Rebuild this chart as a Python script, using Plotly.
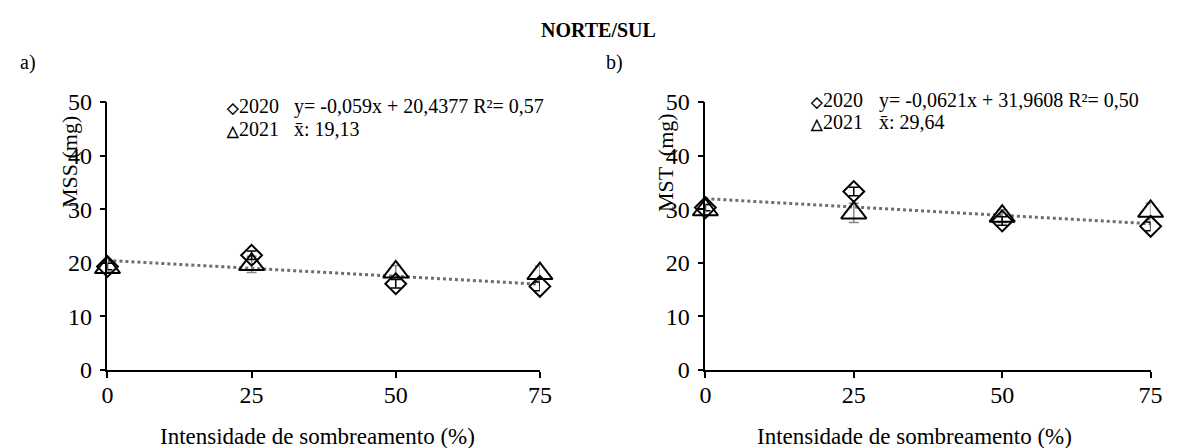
import plotly.graph_objects as go

# ---- data ----
shade = [0, 25, 50, 75]
tick_y = [0, 10, 20, 30, 40, 50]

mss_2020 = [19.3, 21.4, 16.1, 15.6]
mss_2020_err = [0.6, 0.8, 0.8, 0.8]
mss_2021 = [19.1, 19.7, 18.3, 18.0]
mss_2021_err = [0.8, 1.5, 1.2, 1.4]
mss_trend_x = [0, 75]
mss_trend_y = [20.44, 16.01]

mst_2020 = [30.3, 33.3, 27.8, 26.8]
mst_2020_err = [0.6, 0.8, 0.8, 0.8]
mst_2021 = [29.9, 29.3, 28.7, 29.6]
mst_2021_err = [1.0, 1.8, 1.2, 1.5]
mst_trend_x = [0, 75]
mst_trend_y = [31.96, 27.30]

W, H = 1203, 448
FONT = "Liberation Serif"

fig = go.Figure()


def add_panel(xa, ya, y20, e20, y21, e21, tx, ty):
    fig.add_trace(go.Scatter(
        x=tx, y=ty, mode="lines", xaxis=xa, yaxis=ya, showlegend=False,
        line=dict(color="#6e6e6e", width=3, dash="dot"), hoverinfo="skip"))
    fig.add_trace(go.Scatter(
        x=shade, y=y21, mode="markers", xaxis=xa, yaxis=ya, showlegend=False,
        cliponaxis=False,
        marker=dict(symbol="triangle-up-open", size=22,
                    line=dict(color="black", width=2), color="black"),
        error_y=dict(type="data", array=e21, color="#888888", thickness=1.5, width=5)))
    fig.add_trace(go.Scatter(
        x=shade, y=y20, mode="markers", xaxis=xa, yaxis=ya, showlegend=False,
        cliponaxis=False,
        marker=dict(symbol="diamond-open", size=16,
                    line=dict(color="black", width=2), color="black"),
        error_y=dict(type="data", array=e20, color="black", thickness=1.5, width=5)))


add_panel("x", "y", mss_2020, mss_2020_err, mss_2021, mss_2021_err, mss_trend_x, mss_trend_y)
add_panel("x2", "y2", mst_2020, mst_2020_err, mst_2021, mst_2021_err, mst_trend_x, mst_trend_y)

TICKFONT = dict(family=FONT, size=24, color="black")
axis_common = dict(showline=True, linecolor="black", linewidth=1.5, ticks="outside",
                   ticklen=6, tickcolor="black", tickwidth=1.5, showgrid=False,
                   zeroline=False, tickfont=TICKFONT)
xcommon = dict(range=[0, 75], tickvals=shade, ticklabelstandoff=-4, **axis_common)
ycommon = dict(domain=[0, 1], range=[0, 50], tickvals=tick_y, ticklabelstandoff=3, **axis_common)

fig.update_layout(
    width=W, height=H,
    margin=dict(l=0, r=0, t=102, b=78),
    paper_bgcolor="white", plot_bgcolor="white",
    font=dict(family=FONT, color="black", size=20),
    xaxis=dict(domain=[103 / W, 542 / W], anchor="y", **xcommon),
    yaxis=dict(anchor="x", **ycommon),
    xaxis2=dict(domain=[710 / W, 1162 / W], anchor="y2", **xcommon),
    yaxis2=dict(anchor="x2", **ycommon),
)


def px_x(x):
    return x / W


def px_y(y):
    # paper coords: plot area spans y=102 (1) to y=370 (0)
    return (370 - y) / 268


ann = []


def text(x, y, s, size=20, xanchor="center", textangle=0):
    ann.append(dict(x=px_x(x), y=px_y(y), xref="paper", yref="paper", text=s,
                    showarrow=False, xanchor=xanchor, yanchor="middle", textangle=textangle,
                    font=dict(family=FONT, size=size, color="black")))


text(601, 30, "<b>NORTE/SUL</b>", size=20)
text(12, 62, "a)", size=20, xanchor="left")
text(607, 62, "b)", size=20, xanchor="left")

text(64, 162, "MSS (mg)", size=22, textangle=-90)
text(669, 162, "MST  (mg)", size=22, textangle=-90)
text(316, 436, "Intensidade de sombreamento (%)", size=23)
text(922, 436, "Intensidade de sombreamento (%)", size=23)

sym_d = "<span style='font-size:15px'><b>◇</b></span>"
sym_t = "<span style='font-size:15px'><b>△</b></span>"
# left legend
text(221, 106, sym_d + "2020", size=20, xanchor="left")
text(221, 129, sym_t + "2021", size=20, xanchor="left")
text(290, 106, "y= -0,059x + 20,4377 R²= 0,57", size=20, xanchor="left")
text(290, 129, "x\u0304: 19,13", size=20, xanchor="left")
# right legend
text(814, 100, sym_d + "2020", size=20, xanchor="left")
text(814, 122, sym_t + "2021", size=20, xanchor="left")
text(884, 100, "y= -0,0621x + 31,9608 R²= 0,50", size=20, xanchor="left")
text(884, 122, "x\u0304: 29,64", size=20, xanchor="left")

fig.update_layout(annotations=ann)
fig.write_html("out.html")
